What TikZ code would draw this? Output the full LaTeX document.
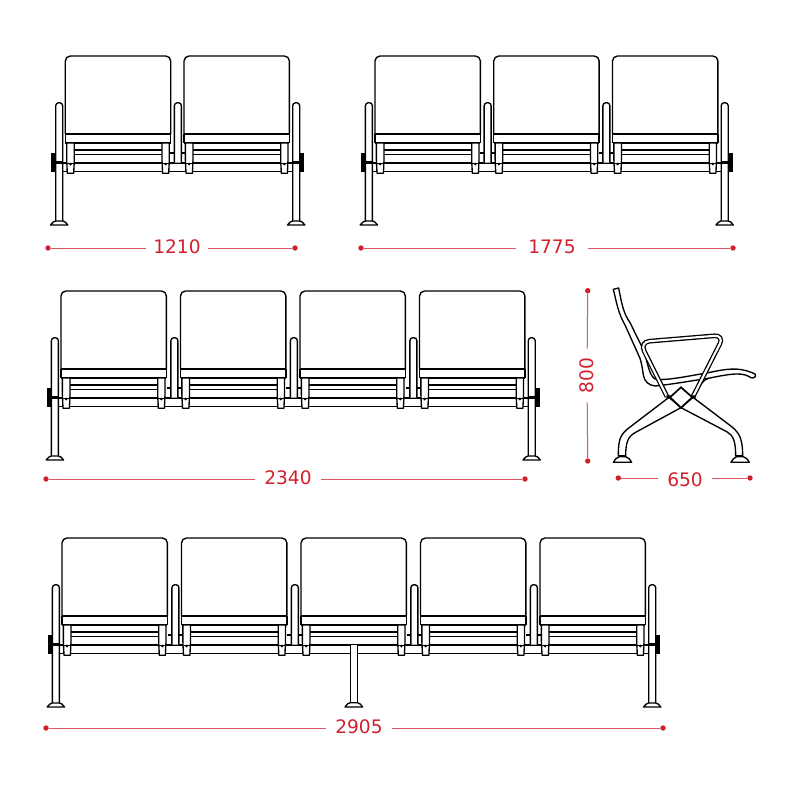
\documentclass[tikz,border=0pt]{standalone}
\usepackage{fontspec}
\setmainfont{DejaVu Sans}
\usetikzlibrary{positioning}
\definecolor{dimred}{RGB}{208,32,46}
\tikzstyle{outline}=[draw=black,line width=1.35pt,line join=round]
\tikzstyle{heavy}=[draw=black,line width=1.7pt]
\tikzstyle{tube}=[draw=black,line width=1.3pt,double=white,double distance=2.1pt,rounded corners=10pt]
\tikzstyle{dimline}=[draw=dimred!75,line width=1pt]
\tikzstyle{dimdot}=[circle,fill=dimred,inner sep=0pt,minimum size=5.4pt]
\tikzstyle{dimtext}=[text=dimred,font=\fontsize{18.6}{18.6}\selectfont,inner ysep=0pt,inner xsep=9pt]
% one seat, origin at top left of the back
\newcommand{\seatunit}{
    \draw[outline,rounded corners=5pt,fill=white] (0,78) -- (0,0) -- (105.4,0) -- (105.4,78);
    \draw[heavy] (0,78.3) -- (105.4,78.3);
    \draw[outline] (0,78.3) -- (0,87) (105.4,78.3) -- (105.4,87);
    \draw[outline] (0,87) -- (105.4,87);
    \draw[outline] (9,94) -- (96.7,94);
    \draw[outline] (9,98.7) -- (96.7,98.7);
    \draw[outline,fill=white] (1.4,87) -- (9,87) -- (9,104) -- (8.4,117.3) -- (2,117.3) -- (1.4,104) -- cycle;
    \draw[outline,fill=white] (96.7,87) -- (104,87) -- (104,104) -- (103.4,117.3) -- (97.3,117.3) -- (96.7,104) -- cycle;
    \draw[outline] (2,107.5) -- (8.4,107.5) (97.3,107.5) -- (103.4,107.5);
    \fill (5.2,108) circle (1.5pt) (100.4,108) circle (1.5pt);
}
% short post between two seats
\newcommand{\midpost}[2]{
    \draw[outline,rounded corners=3pt,fill=white] (#1,#2+106.7) -- (#1,#2+46.7) -- (#1+7,#2+46.7) -- (#1+7,#2+106.7);
    \draw[outline] (#1-4,#2+97) -- (#1,#2+97) (#1+7,#2+97) -- (#1+11,#2+97);
}
% full post with its foot
\newcommand{\legpost}[2]{
    \draw[outline,rounded corners=3pt,fill=white] (#1,#2+165) -- (#1,#2+46.7) -- (#1+7,#2+46.7) -- (#1+7,#2+165);
    \draw[outline,fill=white] (#1-5.2,#2+169) .. controls (#1-4,#2+166.5) and (#1-1,#2+165) .. (#1,#2+165) -- (#1+7,#2+165) .. controls (#1+8,#2+165) and (#1+11,#2+166.5) .. (#1+12.2,#2+169) -- cycle;
}
% x0, y0, pitch, number of seats
\newcommand{\seatrow}[4]{
    \pgfmathsetmacro{\lastpost}{#1+(#4-1)*#3+108.7}
    \pgfmathsetmacro{\firstpost}{#1-9.6}
    \draw[heavy] (\firstpost,#2+106.7) -- (\lastpost,#2+106.7);
    \draw[outline] (\firstpost,#2+115.7) -- (\lastpost,#2+115.7);
    \foreach \i in {1,...,#4}{
        \pgfmathsetmacro{\seatx}{#1+(\i-1)*#3}
        \begin{scope}[shift={(\seatx,#2)}]
            \seatunit
        \end{scope}
    }
    \foreach \i in {2,...,#4}{
        \pgfmathsetmacro{\postx}{#1+(\i-1)*#3-9.6}
        \midpost{\postx}{#2}
    }
    \legpost{\firstpost}{#2}
    \legpost{\lastpost}{#2}
    \fill (\firstpost-4.7,#2+97) rectangle (\firstpost,#2+115.7);
    \fill (\firstpost-1,#2+105) rectangle (\firstpost+7,#2+108.4);
    \fill (\lastpost+7,#2+97) rectangle (\lastpost+11.7,#2+115.7);
    \fill (\lastpost,#2+105) rectangle (\lastpost+8,#2+108.4);
}
\begin{document}
\begin{tikzpicture}[x=1pt,y=-1pt]
    \useasboundingbox (0,0) rectangle (800,800);
    \seatrow{65.3}{56}{118.7}{2}
    \seatrow{375}{56}{118.75}{3}
    \seatrow{61}{291}{119.5}{4}
    \seatrow{62}{538}{119.5}{5}
    % centre leg of the long bench
    \draw[outline,fill=white] (350.2,644.7) -- (350.2,702.7) -- (357.4,702.7) -- (357.4,644.7);
    \draw[outline,fill=white] (345,707) .. controls (346,704.5) and (349,702.7) .. (350.2,702.7) -- (357.4,702.7) .. controls (358.6,702.7) and (361.6,704.5) .. (362.7,707) -- cycle;
    % side view
    \begin{scope}[shift={(575,280)},x=.3333pt,y=-.3333pt]
        \draw[outline,fill=white] (115,28) -- (131,24) .. controls (140,70) and (145,100) .. (165,128) -- (208,215) .. controls (218,250) and (222,285) .. (240,297) .. controls (270,303) and (330,290) .. (400,278) .. controls (450,268) and (490,258) .. (540,282) .. controls (545,290) and (537,296) .. (528,293) .. controls (505,278) and (480,278) .. (400,295) .. controls (350,302) and (300,312) .. (240,318) .. controls (222,316) and (208,305) .. (205,285) .. controls (202,265) and (200,250) .. (195,235) -- (150,135) .. controls (130,100) and (125,70) .. cycle;
        \draw[outline] (400,295) .. controls (385,300) and (372,315) .. (362,345);
        \draw[tube] (276,350) -- (194,186) -- (448,165) -- (354,350);
        \draw[outline,fill=white] (282,352) -- (160,445) .. controls (135,465) and (130,480) .. (130,528) -- (152,528) .. controls (152,485) and (160,470) .. (180,458) -- (318,383) -- cycle;
        \draw[outline,fill=white] (354,352) -- (470,440) .. controls (495,460) and (503,480) .. (503,528) -- (482,528) .. controls (482,485) and (475,465) .. (455,455) -- (318,383) -- cycle;
        \draw[heavy,fill=white,line join=miter] (318,322) -- (352,352) -- (318,383) -- (285,352) -- cycle;
        \fill (274,346) rectangle (288,355) (348,346) rectangle (362,355);
        \draw[outline,fill=white] (115,547) .. controls (118,540) and (125,532) .. (133,530) -- (152,530) .. controls (160,532) and (167,540) .. (170,547) -- cycle;
        \draw[outline,fill=white] (468,547) .. controls (471,540) and (478,532) .. (485,530) -- (505,530) .. controls (513,532) and (520,540) .. (523,547) -- cycle;
        \draw[heavy] (132,528) -- (152,528) (483,528) -- (503,528);
    \end{scope}
    % dimensions
    \node[dimdot] (a1) at (48,248) {};
    \node[dimdot] (b1) at (295,248) {};
    \node[dimtext,inner xsep=7pt] (w1210) at (177,247) {1210};
    \draw[dimline] (a1) -- (a1 -| w1210.west);
    \draw[dimline] (b1 -| w1210.east) -- (b1);
    \node[dimdot] (a2) at (361,248) {};
    \node[dimdot] (b2) at (733,248) {};
    \node[dimtext,inner xsep=12pt] (w1775) at (552,247) {1775};
    \draw[dimline] (a2) -- (a2 -| w1775.west);
    \draw[dimline] (b2 -| w1775.east) -- (b2);
    \node[dimdot] (a3) at (46,479) {};
    \node[dimdot] (b3) at (525,479) {};
    \node[dimtext] (w2340) at (288,478) {2340};
    \draw[dimline] (a3) -- (a3 -| w2340.west);
    \draw[dimline] (b3 -| w2340.east) -- (b3);
    \node[dimdot] (a4) at (46,728) {};
    \node[dimdot] (b4) at (663,728) {};
    \node[dimtext] (w2905) at (359,727) {2905};
    \draw[dimline] (a4) -- (a4 -| w2905.west);
    \draw[dimline] (b4 -| w2905.east) -- (b4);
    \node[dimdot] (a5) at (618.3,478) {};
    \node[dimdot] (b5) at (750,478) {};
    \node[dimtext] (w650) at (685,480) {650};
    \draw[dimline] (a5) -- (a5 -| w650.west);
    \draw[dimline] (b5 -| w650.east) -- (b5);
    \node[dimdot] (a6) at (587.7,290.7) {};
    \node[dimdot] (b6) at (587.7,461) {};
    \node[dimtext,rotate=90] (h800) at (587,375.5) {800};
    \draw[dimline] (a6) -- (h800);
    \draw[dimline] (h800) -- (b6);
\end{tikzpicture}
\end{document}
